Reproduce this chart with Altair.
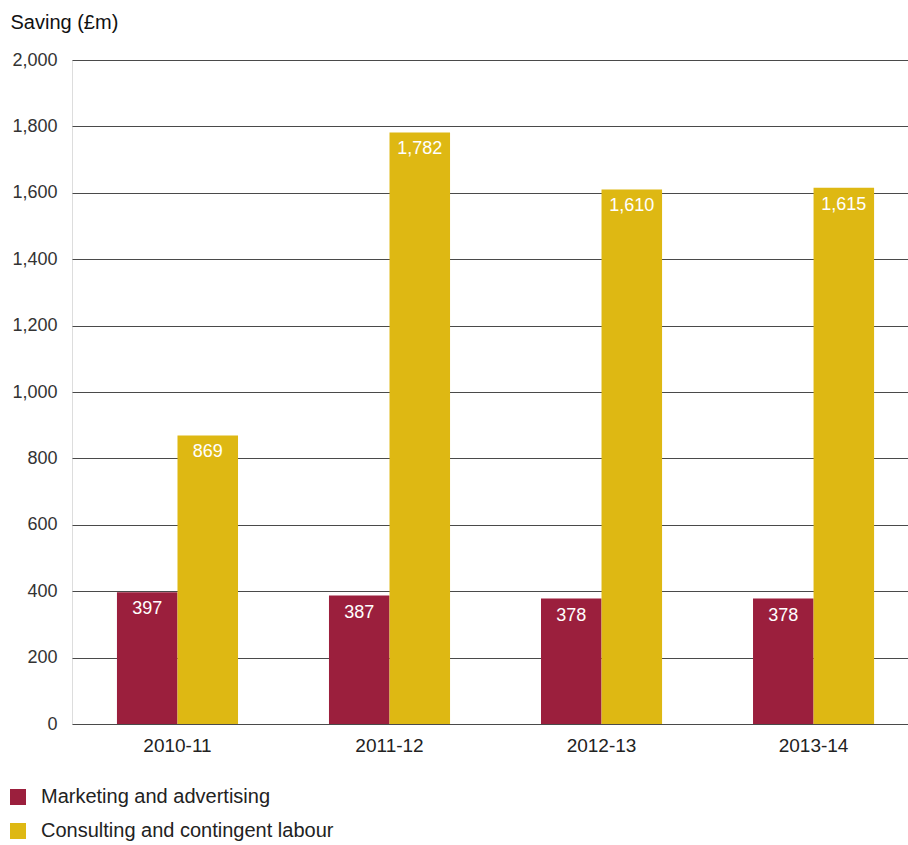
import altair as alt
import pandas as pd

years = ["2010-11", "2011-12", "2012-13", "2013-14"]
marketing = [397, 387, 378, 378]
consulting = [869, 1782, 1610, 1615]
series = ["Marketing and advertising", "Consulting and contingent labour"]
colors = ["#9B1F3D", "#DEB813"]

rows = []
for i, y in enumerate(years):
    rows.append({"year": y, "series": series[0], "value": marketing[i], "order": 0})
    rows.append({"year": y, "series": series[1], "value": consulting[i], "order": 1})
df = pd.DataFrame(rows)

FONT = "Liberation Sans"

x = alt.X("year:N", sort=years,
          scale=alt.Scale(paddingInner=0.429, paddingOuter=0.186, align=0.57),
          axis=alt.Axis(title=None, labelAngle=0, ticks=False, domain=False,
                        labelFontSize=19, labelColor="#222", labelFont=FONT,
                        labelPadding=12))
xo = alt.XOffset("series:N", sort=series, scale=alt.Scale(paddingInner=0, paddingOuter=0))
y = alt.Y("value:Q", scale=alt.Scale(domain=[0, 2000]),
          axis=alt.Axis(values=list(range(0, 2001, 200)), format=",.0f", ticks=False,
                        domain=False, grid=True, gridColor="#4a4a4a", gridWidth=1,
                        labelFontSize=18, labelColor="#333", labelFont=FONT,
                        labelPadding=15, title="Saving (£m)", titleAngle=0,
                        titleAlign="left", titleBaseline="middle", titleX=-62,
                        titleY=-38, titleFontSize=20, titleFontWeight="normal",
                        titleFont=FONT, titleColor="#111"))

color = alt.Color("series:N", sort=series,
                  scale=alt.Scale(domain=series, range=colors),
                  legend=alt.Legend(title=None, orient="none", legendX=-64, legendY=727,
                                    direction="vertical", symbolType="square",
                                    symbolSize=256, symbolStrokeWidth=0,
                                    labelFontSize=20, labelFont=FONT, labelColor="#222",
                                    labelOffset=13, rowPadding=14, labelLimit=500))

bars = alt.Chart(df).mark_bar(opacity=1).encode(x=x, xOffset=xo, y=y, color=color)

text = alt.Chart(df).mark_text(color="white", fontSize=18, font=FONT, baseline="middle",
                               dy=17).encode(
    x=alt.X("year:N", sort=years), xOffset=alt.XOffset("series:N", sort=series),
    y="value:Q", text=alt.Text("value:Q", format=",.0f"))

chart = alt.layer(bars, text).properties(
    width=836, height=664,
    autosize=alt.AutoSizeParams(type="none"),
    padding={"left": 72, "top": 60, "right": 0, "bottom": 121},
).configure_view(stroke=None).configure(background="white")

chart.save("out.html", embed_options={"renderer": "svg", "actions": False})
